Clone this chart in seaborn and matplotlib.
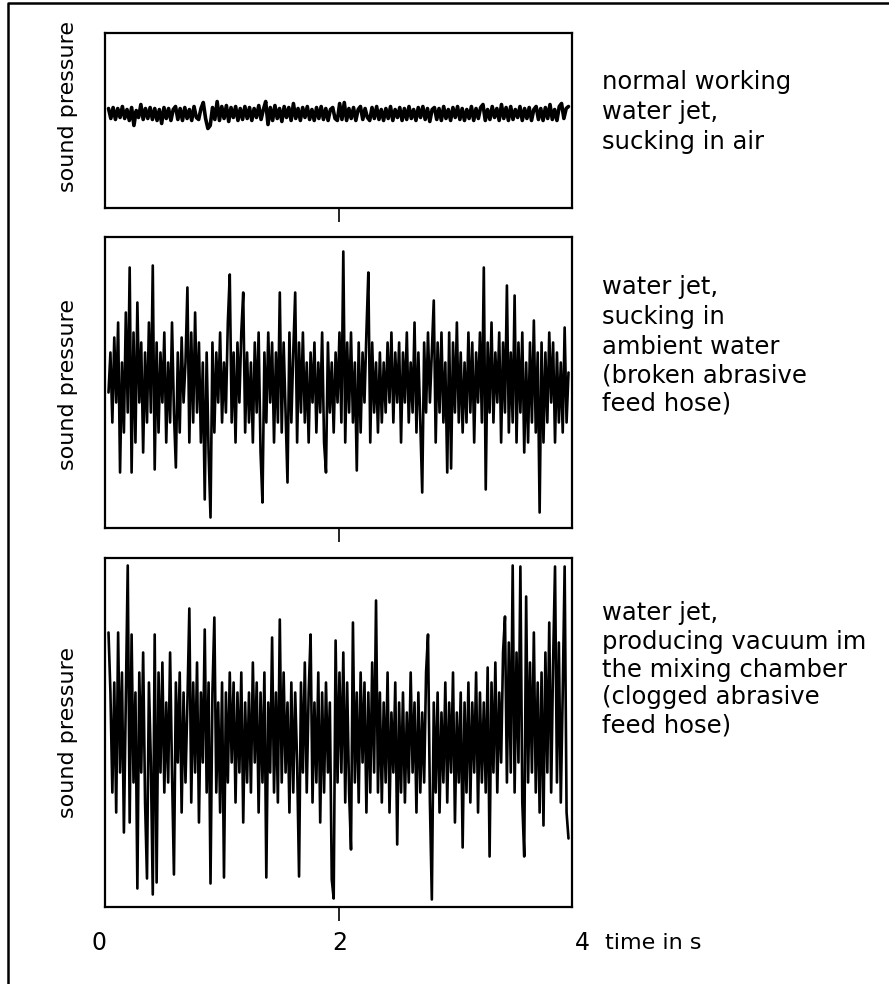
import numpy as np
import matplotlib
matplotlib.use("Agg")
import matplotlib.pyplot as plt
import seaborn as sns
from matplotlib.lines import Line2D

# ---------------- data (sound pressure, arbitrary units) ----------------
panel_labels = [
    ["normal working", "water jet,", "sucking in air"],
    ["water jet,", "sucking in", "ambient water", "(broken abrasive", "feed hose)"],
    ["water jet,", "producing vacuum im", "the mixing chamber", "(clogged abrasive", "feed hose)"],
]
y_label = "sound pressure"
x_tick_labels = ["0", "2", "4"]
x_tick_values = [0, 2, 4]
x_unit_label = "time in s"

normal_air = [
    12, 2, 13, 1, 12, 3, 14, 2, 11, 0, 13, -5, 10, 3, 16, 1, 12, 2, 13, 1,
    12, 0, 11, -3, 13, 2, 12, 0, 11, 14, 1, 12, 0, 13, 2, 11, 0, 14, 3, 1,
    12, 18, 2, -8, -5, 13, 1, 19, 0, 14, 2, 15, -1, 13, 3, 14, 0, 12, 1, 14,
    2, 13, 0, 12, 3, 15, 1, 11, 19, -4, 13, 0, 15, 2, 12, -1, 14, 3, 13, 0,
    17, 2, 12, 0, 13, 3, 14, 1, 11, 0, 13, 2, 14, 1, 12, 0, 11, 13, 2, 0,
    17, 1, 18, 0, 12, 2, 13, 0, 11, 14, 1, 12, 3, 0, 13, 2, 14, 1, 11, 0,
    12, 2, 14, 0, 11, 3, 13, 0, 12, 1, 14, 2, 11, 0, 13, 3, 14, 1, 12, -1,
    11, 13, 1, 12, 0, 14, 2, 11, 0, 13, 3, 14, 1, 12, 0, 11, 2, 14, 0, 12,
    2, 13, 16, 0, 11, 1, 14, 3, 12, 0, 16, 2, 13, 0, 14, 1, 11, 3, 14, 0,
    12, 2, 13, 0, 11, 14, 1, 12, 0, 13, 2, 16, 1, 11, 0, 14, 17, 2, 12, 14,
]

broken_hose = [
    -10, 30, -40, 45, -20, 60, -90, 20, -50, 70, -30, 115, -90, 50, -60, 80, -20, 40, -70, 30,
    -40, 60, -30, 117, -87, 40, -50, 30, -20, 50, -60, 20, -40, 60, -30, -85, 30, -50, 45, -20,
    20, 95, -60, 50, -40, 70, -30, 40, -60, 20, -117, 30, -70, -135, 40, -50, 30, -20, 50, -40,
    20, -30, 60, 108, -40, 30, -60, 40, -20, 50, 90, -50, 30, -40, 20, -60, 40, -30, 50, -70,
    -120, 30, -40, 50, -20, 40, -60, 30, -40, 90, -50, 40, -30, -100, 50, -40, 30, 90, -60, 40,
    -30, 50, -40, 20, -60, 30, -20, 40, -50, 20, -30, 50, -60, -90, 40, -30, 20, -50, 30, -20,
    50, -40, 131, -60, 40, -30, 50, -40, 20, -88, 40, -50, 30, -20, 50, 110, -60, 40, -30, 20,
    -50, 30, -40, 20, -30, 40, -20, 50, -40, 30, -20, 40, -60, 30, -20, 50, -40, 20, -30, 60,
    -50, 30, -40, -110, 40, -30, 50, -20, 30, 82, -60, 40, -30, 50, -40, 20, -90, 50, -86, 40,
    -30, 60, -40, 30, -50, 20, -40, 50, -30, 40, -60, 30, -20, 50, -40, 115, -107, 40, -30, 60,
    -40, 30, -20, 50, -60, 40, -30, 97, -50, 30, -40, 87, -60, 40, -30, 50, -70, 20, -60, 40,
    -40, 62, -50, 30, -130, 40, -60, 30, -40, 50, -20, 40, -60, 30, -40, 20, -50, 55, -40, 10,
]

clogged_hose = [
    100, 40, -60, 50, -80, 100, -40, 60, -100, 30, 167, -90, 98, -50, 40, -156, 60, -40, 80, -70,
    -146, 50, -30, -162, 98, -150, 60, -40, 70, -60, 30, -50, 80, -40, -142, 50, -30, 60, -80, 40,
    -50, 30, 124, -70, 50, -40, 70, -90, 40, -30, 103, -60, 50, -151, 40, 115, -60, 30, -80, 50,
    -145, 40, -50, 60, -30, 50, -70, 40, -40, 60, -90, 30, -50, 40, -60, 70, -30, 50, -80, 40,
    -50, 60, -145, 30, -40, 95, -60, 40, -70, 113, -50, 60, -40, 30, -80, 50, -60, 40, -30, -144,
    50, -40, 70, -60, 40, 98, -70, 30, -50, 60, -90, 40, -60, 50, -40, 30, -147, -166, 92, -50,
    60, -40, 80, -70, 50, -60, -117, 110, -50, 40, -70, 60, -30, 50, -80, 40, -60, 70, -40, 132,
    -60, 40, -70, 30, -50, 60, -80, 20, -40, 50, -112, 30, -60, 40, -70, 20, -50, 60, -40, 30,
    -80, 40, -60, 20, -50, 60, 98, -70, -167, 30, -60, 40, -80, 20, -50, 50, -70, 30, -40, 60,
    -90, 20, -50, 40, -115, 30, -60, 50, -70, 30, -40, 60, -80, 40, -50, 30, -60, 65, -124, 50,
    -40, 70, -60, 40, -30, 80, 116, -50, 90, -40, 167, -60, 80, -30, 166, -70, -124, 136, -50, 70,
    -40, 100, -60, 50, -80, 60, -93, 80, -40, 110, -60, 70, 166, -50, 90, -70, 40, 166, -80, -106,
]

series = [normal_air, broken_hose, clogged_hose]

# ---------------- layout (pixel based) ----------------
W, H = 889, 984
sns.set_theme(style="white")
plt.rcParams["font.family"] = ["DejaVu Sans"]

fig = plt.figure(figsize=(W / 100, H / 100), dpi=100)
fig.patch.set_facecolor("white")


def rect(l, t, r, b):
    return [l / W, 1 - b / H, (r - l) / W, (b - t) / H]


def fx(x):
    return x / W


def fy(y):
    return 1 - y / H


boxes = [(105, 33, 572, 208), (105, 237, 572, 528), (105, 558, 572, 907)]
halfs = [87.5, 145.5, 174.5]
lws = [2.6, 1.9, 1.9]
ylab_y = [106, 385, 733]
text_x = 602
baselines = [[89, 119, 149], [294, 324, 354, 382, 410], [620, 649, 677, 704, 732]]

for i, (box, vals) in enumerate(zip(boxes, series)):
    ax = fig.add_axes(rect(*box))
    t = np.linspace(0.03, 3.97, len(vals))
    sns.lineplot(x=t, y=vals, ax=ax, color="black", linewidth=lws[i])
    ax.set_xlim(0, 4)
    ax.set_ylim(-halfs[i], halfs[i])
    ax.set_yticks([])
    ax.set_xticks([2])
    ax.set_xticklabels([])
    ax.tick_params(axis="x", bottom=True, direction="out", length=10,
                   width=1.2, color="black")
    ax.set_xlabel("")
    ax.set_ylabel("")
    for sp in ax.spines.values():
        sp.set_color("black")
        sp.set_linewidth(1.6)
    fig.text(fx(68), fy(ylab_y[i]), y_label, rotation=90, ha="center",
             va="center", fontsize=16, color="black")
    for line, yb in zip(panel_labels[i], baselines[i]):
        fig.text(fx(text_x), fy(yb), line, ha="left", va="baseline",
                 fontsize=17.5, color="black")

# bottom axis labels
x_pos = {0: 99, 2: 340, 4: 582}
for val, lab in zip(x_tick_values, x_tick_labels):
    fig.text(fx(x_pos[val]), fy(943), lab, ha="center", va="center",
             fontsize=17, color="black")
fig.text(fx(605), fy(943), x_unit_label, ha="left", va="center",
         fontsize=16, color="black")

# outer frame (left and top border)
fig.add_artist(Line2D([fx(8), fx(8), fx(889)], [fy(984), fy(3), fy(3)],
                      color="black", linewidth=1.8, transform=fig.transFigure))

fig.savefig("out.png", dpi=100, facecolor="white")
